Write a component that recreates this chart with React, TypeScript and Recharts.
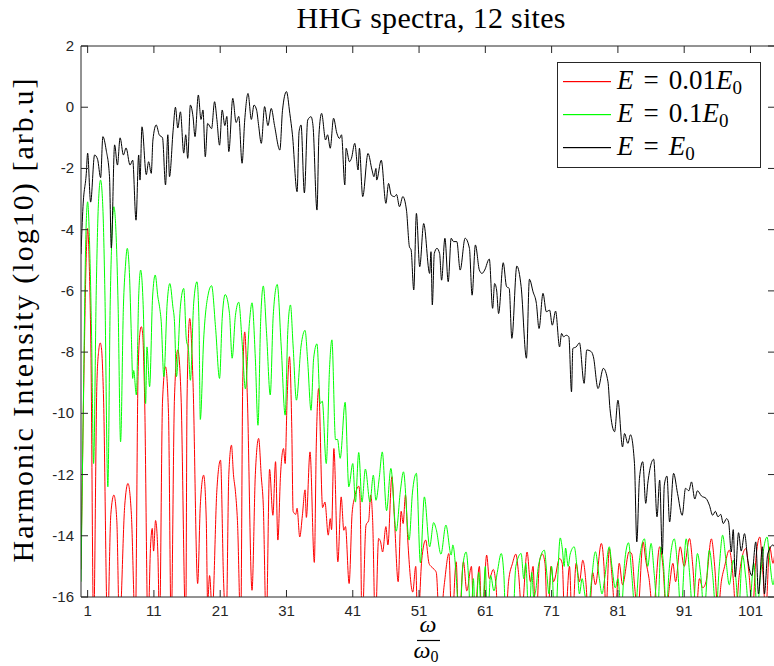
import React from 'react';
import { LineChart, Line, XAxis, YAxis, Legend } from 'recharts';

// ---------------- data ----------------
const X_TICKS = [1, 11, 21, 31, 41, 51, 61, 71, 81, 91, 101];
const Y_TICKS = [-16, -14, -12, -10, -8, -6, -4, -2, 0, 2];
const X_DOMAIN: [number, number] = [0, 104.7];
const Y_DOMAIN: [number, number] = [-16, 2];

const TITLE = 'HHG spectra, 12 sites';
const Y_LABEL = 'Harmonic Intensity (log10) [arb.u]';

// E = 0.01 E0 (red)
const RED: number[][] = [
  [0, -15.1], [0.5, -8], [0.8, -4.8], [1.0, -3.96], [1.2, -4.8], [1.5, -8], [1.9, -17], [2.4, -9], [2.7, -7.9], [2.9, -7.7],
  [3.1, -7.9], [3.4, -9.5], [4.0, -17], [4.5, -13.3], [4.96, -12.67], [5.4, -13.5], [5.8, -17], [6.6, -13], [7.08, -12.29],
  [7.6, -13.3], [8.2, -17], [8.6, -8.8], [8.9, -7.35], [9.1, -7.17], [9.3, -7.4], [9.6, -9.5], [10.1, -17], [10.5, -14.3],
  [10.75, -13.76], [10.95, -14.5], [11.25, -13.5], [11.6, -14.6], [11.85, -17], [12.3, -9.6], [12.75, -8.48], [13.2, -10],
  [13.6, -17], [14.1, -9.5], [14.6, -7.93], [15.1, -9.5], [15.8, -17], [16.0, -9.5], [16.4, -6.9], [16.9, -9], [17.6, -15.56],
  [18.0, -13], [18.5, -12.02], [18.9, -13.5], [19.1, -16.2], [19.4, -15.3], [19.8, -16.5], [20.5, -12.5], [21.05, -11.53],
  [21.5, -15.4], [21.9, -17], [22.3, -12], [22.7, -11.04], [23.0, -12], [23.3, -12.56], [23.6, -13.5], [24.1, -17], [24.4, -9],
  [24.7, -7.34], [25.1, -9.5], [25.8, -15.78], [26.3, -12], [26.8, -10.82], [27.2, -12.07], [27.5, -13], [27.95, -17],
  [28.45, -11.83], [28.95, -13.33], [29.35, -11.58], [29.7, -14.14], [30.1, -12.02], [30.55, -11.15], [30.8, -11.64],
  [31.1, -9.5], [31.45, -8.15], [31.8, -10.5], [32.0, -13.2], [32.4, -13.3], [32.6, -13.1], [33.0, -14.04], [33.4, -13.33],
  [33.8, -12.5], [34.0, -13.4], [34.55, -11.26], [35.2, -14.87], [35.5, -11], [35.85, -9.19], [36.45, -13.08], [36.8, -12.9],
  [37.3, -13.98], [37.6, -13.44], [37.8, -13.8], [38.15, -11.15], [38.75, -14.85], [39.25, -12.73], [39.65, -13.82],
  [39.9, -13.7], [40.45, -15.56], [40.9, -13.27], [41.3, -12.73], [41.9, -12.38], [42.1, -12.8], [42.4, -17], [43.0, -13.65],
  [43.4, -13.5], [43.7, -12.67], [44.0, -13.5], [44.4, -17], [44.9, -14.09], [45.2, -14.2], [45.5, -14.53], [46.0, -13.7],
  [46.3, -14.3], [46.9, -12.07], [47.3, -13.5], [47.85, -15.5], [48.3, -13.2], [48.6, -13.6], [48.95, -12.67], [49.3, -14.14],
  [50.05, -15.84], [50.5, -15.0], [50.8, -17], [51.4, -14.8], [52.0, -14.14], [52.5, -14.9], [52.8, -15.0], [53.3, -15.1],
  [53.6, -15.2], [54.1, -17], [54.8, -15.6], [55.5, -14.58], [55.95, -17], [56.6, -14.85], [57.0, -17], [57.7, -14.85],
  [58.2, -15.8], [58.9, -15.0], [59.3, -17], [60.1, -15.0], [60.5, -17], [61.2, -14.63], [61.6, -15.4], [62.2, -15.1],
  [62.6, -15.6], [63.0, -17], [63.5, -16.5], [64.0, -17], [64.5, -15.5], [65.1, -14.9], [65.6, -14.6], [66.0, -15.2],
  [66.5, -16.5], [67.3, -14.53], [67.8, -15.5], [68.2, -15.0], [68.6, -17], [69.2, -14.8], [69.6, -14.6], [70.0, -14.9],
  [70.4, -17], [70.9, -15.0], [71.3, -15.5], [72.2, -14.74], [72.6, -14.9], [73.0, -17], [73.7, -15.0], [74.1, -17],
  [74.7, -14.9], [75.2, -15.5], [75.7, -14.8], [76.2, -15.6], [76.6, -17], [77.2, -15.2], [77.6, -15.6], [78.5, -14.25],
  [78.9, -15.0], [79.2, -16.5], [79.7, -14.42], [80.1, -15.3], [80.6, -16.5], [81.2, -14.9], [81.7, -15.6], [82.7, -14.52],
  [83.1, -14.6], [83.5, -15.6], [84.0, -16.5], [84.8, -14.2], [85.2, -14.8], [85.7, -15.4], [86.3, -16.5], [87.3, -14.36],
  [87.8, -15.0], [88.3, -16.5], [88.8, -15.6], [89.3, -14.9], [89.7, -15.5], [90.4, -14.36], [91.0, -15.0], [91.8, -14.09],
  [92.3, -15.0], [92.8, -16.5], [93.3, -15.4], [93.8, -15.7], [94.3, -15.5], [95.1, -14.1], [95.6, -15.0], [96.1, -16.5],
  [96.6, -15.5], [97.1, -15.0], [97.8, -14.47], [98.4, -15.4], [98.8, -16.5], [99.3, -15.3], [100.3, -14.42], [100.8, -15.3],
  [101.3, -16.5], [101.8, -14.8], [102.4, -14.04], [102.9, -15.3], [103.3, -16.5], [103.9, -14.36], [104.4, -14.9], [104.7, -14.5],
];

// E = 0.1 E0 (green)
const GREEN: number[][] = [
  [0, -15.5], [0.4, -9], [0.7, -4.5], [1.0, -3.09], [1.3, -4.5], [1.6, -7.5], [1.9, -11.64], [2.3, -6], [2.6, -3.3],
  [2.95, -2.38], [3.3, -3.3], [3.6, -6], [4.05, -12.4], [4.4, -6.5], [4.7, -4], [4.96, -3.25], [5.3, -4.2], [5.6, -6.5],
  [5.97, -10.93], [6.4, -6.5], [6.7, -5.2], [6.98, -4.61], [7.3, -5.4], [7.6, -7.5], [7.8, -8.86], [7.95, -8.6], [8.35, -9.4],
  [8.7, -6.2], [9.0, -5.32], [9.4, -6.6], [9.75, -9.68], [9.95, -7.83], [10.35, -9.13], [10.8, -6.2], [11.2, -5.48],
  [11.6, -6.2], [11.85, -6.52], [12.1, -7.0], [12.5, -8.8], [13.0, -6.4], [13.4, -5.76], [13.86, -6.52], [14.1, -7.0],
  [14.4, -8.8], [15.0, -6.5], [15.5, -5.92], [15.9, -7.6], [16.2, -7.9], [16.5, -8.92], [17.0, -6.4], [17.5, -5.7],
  [17.8, -7.0], [18.0, -10.2], [18.5, -7.6], [19.2, -6.1], [19.7, -5.83], [20.3, -7.2], [20.9, -8.86], [21.3, -6.9],
  [21.75, -6.12], [22.4, -6.74], [22.8, -8.2], [23.3, -6.8], [23.8, -6.37], [24.3, -7.66], [24.8, -9.2], [25.4, -7.06],
  [25.8, -6.39], [26.3, -8.2], [26.7, -10.39], [27.1, -7.0], [27.5, -5.84], [28.0, -7.4], [28.55, -9.4], [29.0, -6.8],
  [29.6, -5.79], [30.2, -7.8], [30.8, -10.06], [31.2, -7.3], [31.6, -6.46], [32.0, -7.8], [32.5, -9.57], [33.2, -7.8],
  [33.8, -7.29], [34.2, -8.3], [34.7, -9.9], [35.1, -8.2], [35.6, -7.73], [36.1, -9.68], [36.4, -9.6], [37.0, -11.64],
  [37.5, -8.5], [37.85, -7.6], [38.4, -10.86], [38.7, -10.85], [39.1, -11.47], [39.85, -9.64], [40.4, -12.4], [41.0, -11.64],
  [41.4, -12.9], [41.9, -11.28], [42.4, -12.9], [42.9, -11.82], [43.6, -12.9], [44.1, -12.02], [44.5, -12.84], [45.0, -12.1],
  [45.45, -11.26], [46.1, -13.18], [46.75, -11.8], [47.55, -13.85], [48.2, -12.5], [48.65, -11.91], [49.5, -14.14],
  [50.0, -12.6], [50.6, -11.96], [51.2, -14.88], [51.8, -12.73], [52.6, -14.36], [53.2, -13.57], [53.6, -13.8], [54.3, -14.6],
  [55.05, -13.65], [55.85, -14.63], [56.1, -14.3], [56.6, -15.3], [57.1, -17], [57.6, -15.0], [58.1, -14.53], [58.5, -15.5],
  [58.8, -17], [59.2, -15.4], [59.5, -17], [60.0, -15.2], [60.5, -17], [61.0, -15.0], [61.3, -17], [61.8, -15.3],
  [62.3, -15.8], [62.8, -15.2], [63.4, -14.58], [63.8, -15.3], [64.1, -17], [64.6, -16.2], [65.1, -17], [65.6, -15.0],
  [66.4, -14.58], [66.8, -15.4], [67.1, -14.9], [67.6, -17], [68.0, -15.2], [68.3, -16.0], [68.6, -15.8], [69.0, -15.0],
  [69.9, -14.47], [70.3, -15.3], [70.6, -15.9], [71.0, -15.0], [71.5, -17], [72.3, -14.07], [72.6, -14.4], [72.9, -15.0],
  [73.1, -14.4], [73.5, -15.0], [73.8, -14.6], [74.4, -14.36], [74.9, -15.2], [75.2, -15.9], [75.6, -15.4], [76.0, -15.9],
  [76.5, -16.5], [77.0, -15.5], [77.6, -14.52], [78.2, -15.4], [78.6, -15.9], [79.0, -15.4], [79.7, -14.36], [80.1, -15.0],
  [80.6, -15.7], [81.0, -15.4], [81.5, -16.5], [82.0, -14.9], [82.6, -14.23], [83.1, -15.3], [83.6, -16.5], [84.2, -14.9],
  [85.0, -14.1], [85.5, -15.0], [86.0, -14.25], [86.5, -15.3], [87.0, -16.5], [87.5, -14.36], [87.9, -15.0], [88.3, -16.5],
  [88.7, -15.2], [89.5, -14.1], [90.0, -15.0], [90.5, -16.5], [91.3, -14.1], [91.8, -15.2], [92.3, -16.5], [93.0, -14.58],
  [93.5, -15.3], [94.0, -16.5], [94.8, -14.47], [95.3, -15.3], [95.8, -16.5], [96.3, -15.0], [96.8, -13.98], [97.3, -14.8],
  [97.8, -15.6], [98.4, -14.8], [98.8, -15.4], [99.2, -16.5], [99.8, -14.63], [100.3, -15.4], [100.8, -16.5], [101.5, -14.9],
  [102.0, -16.5], [102.5, -15.3], [103.5, -14.04], [103.9, -14.8], [104.4, -15.6], [104.7, -15.2],
];

// E = E0 (black)
const BLACK: number[][] = [
  [0, -4.8], [0.3, -3.25], [0.8, -2.16], [1.0, -1.5], [1.45, -3.1], [2.05, -1.56], [2.5, -1.7], [2.96, -2.3], [3.3, -0.96],
  [3.8, -1.4], [4.3, -2.27], [4.57, -4.6], [5.07, -1.23], [5.5, -1.89], [5.9, -1.0], [6.4, -1.56], [6.8, -1.33], [7.4, -1.89],
  [7.8, -1.73], [8.3, -3.69], [8.7, -1.56], [8.9, -2.38], [9.2, -0.64], [9.85, -2.2], [10.2, -1.78], [10.6, -2.16],
  [10.85, -1.07], [11.35, -0.58], [11.8, -0.9], [12.3, -1.0], [12.75, -2.54], [13.1, -0.9], [13.35, -2.27], [13.9, -0.75],
  [14.25, 0.0], [14.6, -0.68], [15.0, -0.15], [15.5, -1.5], [15.8, -0.9], [16.1, -1.67], [16.5, 0.07], [16.9, -0.31],
  [17.2, -0.96], [17.7, 0.4], [18.1, -0.4], [18.4, -0.09], [18.75, -1.62], [19.1, -0.53], [19.7, -0.7], [20.15, 0.18],
  [20.5, -0.4], [20.9, -1.24], [21.3, -0.09], [21.7, -0.6], [22.0, -0.3], [22.3, -1.45], [22.9, 0.29], [23.4, -0.5],
  [23.8, -0.3], [24.3, -1.83], [24.7, -0.42], [25.2, 0.45], [25.7, -0.4], [26.1, 0.07], [26.5, -0.1], [26.8, -0.6],
  [27.2, -1.18], [27.7, 0.02], [28.2, -0.6], [28.7, -0.04], [29.2, -0.6], [30.0, -1.4], [30.4, -0.1], [31.0, 0.51],
  [31.5, -0.2], [31.9, -0.9], [32.6, -2.76], [32.9, -0.8], [33.2, -0.58], [33.7, -2.8], [34.2, -0.42], [34.7, -0.31],
  [35.0, -0.6], [35.6, -3.36], [35.9, -0.9], [36.3, -0.2], [36.9, -1.07], [37.2, -0.9], [37.6, -1.34], [38.1, -0.36],
  [38.6, -0.85], [39.0, -1.02], [39.3, -0.9], [39.8, -2.54], [40.0, -1.34], [40.5, -1.78], [40.8, -1.67], [41.3, -1.18],
  [41.8, -2.05], [42.0, -1.34], [42.5, -2.92], [43.3, -1.51], [43.9, -2.05], [44.2, -2.27], [44.5, -2.0], [44.6, -2.38],
  [45.3, -1.73], [46.0, -3.14], [46.4, -2.49], [46.8, -2.87], [47.3, -2.92], [47.6, -2.85], [48.05, -3.25], [48.55, -2.92],
  [49.1, -3.36], [49.55, -4.56], [49.8, -4.66], [50.2, -5.97], [50.6, -3.47], [51.1, -5.21], [51.7, -3.8], [52.6, -5.43],
  [52.8, -4.72], [53.0, -6.46], [53.3, -4.78], [53.7, -4.61], [54.1, -4.78], [54.4, -5.65], [54.9, -4.28], [55.4, -5.7],
  [55.85, -4.28], [56.2, -4.39], [56.7, -4.39], [57.2, -5.32], [57.95, -4.28], [58.6, -4.61], [59.0, -6.14], [59.5, -4.5],
  [60.1, -5.32], [60.5, -5.43], [60.9, -5.32], [61.6, -4.96], [62.1, -6.57], [62.4, -5.76], [62.7, -5.97], [63.0, -6.74],
  [63.7, -5.08], [64.2, -5.86], [64.6, -5.92], [65.0, -7.55], [65.75, -5.19], [66.4, -5.86], [67.2, -8.2], [67.65, -5.62],
  [68.2, -6.03], [68.7, -6.41], [69.1, -7.23], [69.7, -6.08], [70.2, -6.68], [70.7, -6.63], [71.1, -7.12], [71.6, -6.66],
  [72.2, -7.83], [72.5, -7.39], [72.8, -7.5], [73.2, -7.45], [73.6, -7.5], [74.0, -9.3], [74.2, -7.88], [74.7, -7.83],
  [75.2, -7.7], [75.9, -9.02], [76.3, -7.93], [77.0, -7.99], [77.3, -8.15], [78.0, -9.19], [78.8, -8.53], [79.5, -8.97],
  [79.8, -9.84], [80.5, -10.6], [81.0, -9.57], [81.7, -11.1], [82.0, -10.66], [82.5, -10.98], [82.9, -10.7], [83.5, -11.64],
  [83.85, -14.2], [84.25, -12.13], [84.75, -11.58], [85.2, -12.94], [85.5, -12.3], [86.4, -11.5], [86.9, -13.38],
  [87.3, -12.18], [87.7, -14.58], [88.0, -12.35], [88.4, -12.05], [88.8, -13.55], [89.4, -11.96], [90.0, -12.62],
  [90.7, -13.33], [91.2, -12.45], [91.7, -12.53], [92.1, -12.24], [92.6, -12.8], [93.0, -12.53], [93.6, -12.7], [94.3, -12.78],
  [94.8, -13.0], [95.3, -13.33], [95.7, -13.2], [96.1, -13.38], [96.5, -13.3], [96.9, -13.6], [97.4, -13.44], [97.7, -13.55],
  [98.1, -14.53], [98.4, -13.8], [98.7, -15.34], [99.2, -13.9], [99.6, -14.5], [100.1, -13.93], [100.6, -14.8], [101.2, -15.3],
  [101.8, -14.2], [102.2, -15.9], [102.8, -14.36], [103.1, -15.9], [103.6, -14.6], [104.4, -14.3], [104.7, -14.4],
];

const SERIES = [
  { id: 'e001', coeff: '0.01', color: '#ff0000', points: RED },
  { id: 'e01', coeff: '0.1', color: '#00ff00', points: GREEN },
  { id: 'e1', coeff: '', color: '#000000', points: BLACK },
];

// ---------------- layout ----------------
const CHART_W = 780;
const CHART_H = 666;
const LEFT_W = 81;
const TOP_H = 46;
const BOTTOM_H = 69;
const RIGHT_W = 5;
const PLOT_L = LEFT_W;
const PLOT_T = TOP_H;
const PLOT_R = CHART_W - RIGHT_W;
const PLOT_B = CHART_H - BOTTOM_H;
const TICK_LEN = 7;
const AXIS_COLOR = '#262626';
const SANS = '"Liberation Sans", Arial, Helvetica, sans-serif';
const SERIF = '"Liberation Serif", "Times New Roman", serif';

const toRows = (pts: number[][]) => pts.map(([w, v]) => ({ w, v }));

const BottomTick = (p: any) => (
  <g>
    <line x1={p.x} x2={p.x} y1={PLOT_B} y2={PLOT_B - TICK_LEN} stroke={AXIS_COLOR} strokeWidth={1} />
    <text x={p.x} y={PLOT_B + 19} textAnchor="middle" fontFamily={SANS} fontSize={15} fill={AXIS_COLOR}>
      {p.payload.value}
    </text>
  </g>
);

const TopTick = (p: any) => (
  <line x1={p.x} x2={p.x} y1={PLOT_T} y2={PLOT_T + TICK_LEN} stroke={AXIS_COLOR} strokeWidth={1} />
);

const LeftTick = (p: any) => (
  <g>
    <line x1={PLOT_L} x2={PLOT_L + TICK_LEN} y1={p.y} y2={p.y} stroke={AXIS_COLOR} strokeWidth={1} />
    <text x={PLOT_L - 7} y={p.y + 5} textAnchor="end" fontFamily={SANS} fontSize={15} fill={AXIS_COLOR}>
      {p.payload.value}
    </text>
  </g>
);

const RightTick = (p: any) => (
  <line x1={PLOT_R} x2={PLOT_R - TICK_LEN} y1={p.y} y2={p.y} stroke={AXIS_COLOR} strokeWidth={1} />
);

const TitleLabel = (p: any) => {
  const vb = p.viewBox || {};
  return (
    <text
      x={vb.x + vb.width / 2 + 3}
      y={28}
      textAnchor="middle"
      fontFamily={SERIF}
      fontSize={30}
      textLength={269}
      lengthAdjust="spacing"
      fill="#000"
    >
      {TITLE}
    </text>
  );
};

const YTitle = (p: any) => {
  const vb = p.viewBox || {};
  const cy = vb.y + vb.height / 2 - 1;
  return (
    <text
      x={33}
      y={cy}
      transform={`rotate(-90, 33, ${cy})`}
      textAnchor="middle"
      fontFamily={SERIF}
      fontSize={30}
      textLength={484}
      lengthAdjust="spacing"
      fill="#000"
    >
      {Y_LABEL}
    </text>
  );
};

const XTitle = (p: any) => {
  const vb = p.viewBox || {};
  const cx = vb.x + vb.width / 2;
  return (
    <g>
      <text x={cx} y={PLOT_B + 35} textAnchor="middle" fontFamily={SERIF} fontStyle="italic" fontSize={24} fill="#000">
        ω
      </text>
      <line x1={cx - 11} x2={cx + 12} y1={PLOT_B + 43.5} y2={PLOT_B + 43.5} stroke="#000" strokeWidth={1.2} />
      <text x={cx - 2} y={PLOT_B + 61} textAnchor="middle" fontFamily={SERIF} fontSize={24} fill="#000">
        <tspan fontStyle="italic">ω</tspan>
        <tspan fontSize={16} dy={4}>0</tspan>
      </text>
    </g>
  );
};

const LegendBox = (props: any) => {
  const items = (props && props.payload) || [];
  return (
    <svg width={204} height={106} style={{ display: 'block' }}>
      <rect x={0.5} y={0.5} width={203} height={105} fill="#fff" stroke={AXIS_COLOR} strokeWidth={1} />
      {SERIES.map((s, i) => {
        const cy = 19 + i * 33;
        const fromPayload = items.find((it: any) => it && it.dataKey === 'v' && it.color === s.color);
        const color = (fromPayload && fromPayload.color) || s.color;
        return (
          <g key={s.id}>
            <rect x={6} y={cy} width={48} height={1.2} fill={color} />
            <text x={60} y={cy + 8} fontFamily={SERIF} fontSize={27} fill="#000">
              <tspan fontStyle="italic">E</tspan>
              <tspan dx={10}>=</tspan>
              {s.coeff ? <tspan dx={10}>{s.coeff}</tspan> : null}
              <tspan fontStyle="italic" dx={s.coeff ? 0 : 10}>E</tspan>
              <tspan fontSize={19} dy={5}>0</tspan>
            </text>
          </g>
        );
      })}
    </svg>
  );
};

export default function App() {
  return (
    <div style={{ position: 'absolute', left: 0, top: 0, width: 774, height: 666, overflow: 'hidden', background: '#fff' }}>
      <LineChart width={CHART_W} height={CHART_H} margin={{ top: 0, right: 0, bottom: 0, left: 0 }}>
        <XAxis
          xAxisId="b"
          type="number"
          dataKey="w"
          domain={X_DOMAIN}
          allowDataOverflow
          ticks={X_TICKS}
          interval={0}
          height={BOTTOM_H}
          tickLine={false}
          tick={BottomTick}
          axisLine={{ stroke: AXIS_COLOR }}
          label={XTitle}
        />
        <XAxis
          xAxisId="t"
          orientation="top"
          type="number"
          dataKey="w"
          domain={X_DOMAIN}
          allowDataOverflow
          ticks={X_TICKS}
          interval={0}
          height={TOP_H}
          tickLine={false}
          tick={TopTick}
          axisLine={{ stroke: AXIS_COLOR }}
          label={TitleLabel}
        />
        <YAxis
          yAxisId="l"
          type="number"
          domain={Y_DOMAIN}
          allowDataOverflow
          ticks={Y_TICKS}
          interval={0}
          width={LEFT_W}
          tickLine={false}
          tick={LeftTick}
          axisLine={{ stroke: AXIS_COLOR }}
          label={YTitle}
        />
        <YAxis
          yAxisId="r"
          orientation="right"
          type="number"
          domain={Y_DOMAIN}
          allowDataOverflow
          ticks={Y_TICKS}
          interval={0}
          width={RIGHT_W}
          tickLine={false}
          tick={RightTick}
          axisLine={{ stroke: AXIS_COLOR }}
        />
        {SERIES.map((s) => (
          <Line
            key={s.id}
            xAxisId="b"
            yAxisId="l"
            data={toRows(s.points)}
            dataKey="v"
            type="monotone"
            stroke={s.color}
            strokeWidth={1}
            dot={false}
            activeDot={false}
            isAnimationActive={false}
          />
        ))}
        <Legend
          layout="vertical"
          align="center"
          verticalAlign="middle"
          content={LegendBox}
          wrapperStyle={{ left: 557, top: 62, width: 204, height: 106 }}
        />
      </LineChart>
    </div>
  );
}
